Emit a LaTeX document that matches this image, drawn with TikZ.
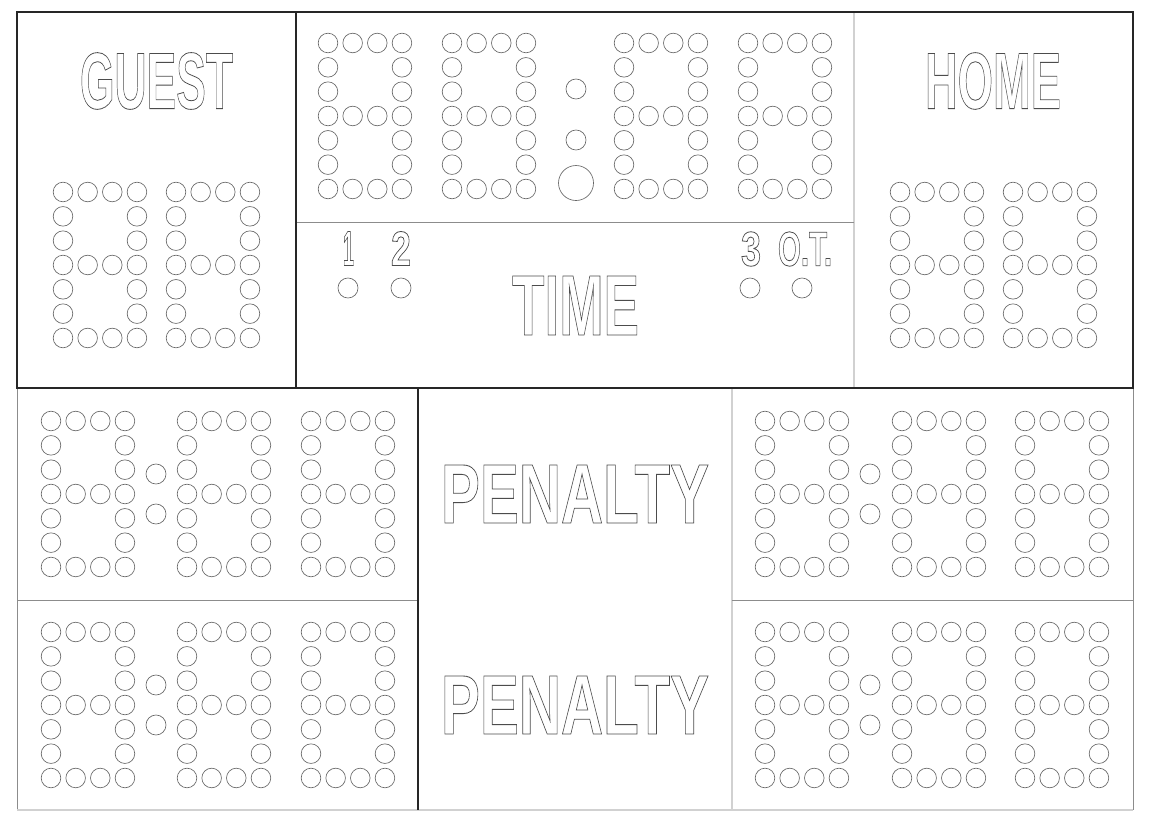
\documentclass[tikz,border=0pt]{standalone}
\usepackage{fontspec}
\setmainfont{Liberation Sans}
\usepackage{graphicx}
\usepackage{tikz}

\newcommand{\boardlabel}[3]{\resizebox{#1pt}{#2pt}{\special{pdf:code 1 Tr 0.8 w}#3\special{pdf:code 0 Tr}}}
\newcommand{\dotdigit}[2]{%
    \foreach \c in {0,...,3} {
        \foreach \r in {0,3,6}
            \draw[dot] (#1+\c*24.65,#2+\r*24.33) circle (9.8);
    }
    \foreach \c in {0,3} {
        \foreach \r in {1,2,4,5}
            \draw[dot] (#1+\c*24.65,#2+\r*24.33) circle (9.8);
    }
}

\tikzset{
    dot/.style={draw=black!60,line width=0.65pt},
    frame/.style={draw=black!85,line width=1.2pt},
    midline/.style={draw=black!45,line width=1pt},
    lightline/.style={draw=black!18,line width=1.2pt},
    boardtext/.style={inner sep=0pt,font=\bfseries\fontsize{78}{78}\selectfont,text=black!70}
}

\begin{document}
\begin{tikzpicture}[x=1pt,y=-1pt]
    \useasboundingbox (0,0) rectangle (1150,830);
    \fill[white] (0,0) rectangle (1150,830);
    \draw[midline] (17,388) -- (17,810);
    \draw[midline] (1133,388) -- (1133,810);
    \draw[lightline] (17,810) -- (1133,810);
    \draw[lightline] (732,388) -- (732,810);
    \draw[midline] (17,600) -- (418,600);
    \draw[midline] (732,600) -- (1133,600);
    \draw[frame] (418,388) -- (418,810);
    \draw[lightline] (854,12) -- (854,388);
    \draw[midline] (296,222) -- (854,222);
    \draw[frame] (296,12) -- (296,388);
    \draw[frame] (17,12) rectangle (1133,388);
    \node[boardtext] (guest) at (156.5,81) {\boardlabel{153}{56}{GUEST}};
    \node[boardtext] (home) at (993,81) {\boardlabel{136}{56}{HOME}};
    \node[boardtext] (time) at (575.5,305.5) {\boardlabel{127}{59}{TIME}};
    \node[boardtext] (penalty1) at (575,494) {\boardlabel{268}{58}{PENALTY}};
    \node[boardtext] (penalty2) at (575,705) {\boardlabel{268}{58}{PENALTY}};
    \node[boardtext,font=\bfseries\fontsize{47}{47}\selectfont] (per1) at (348.5,248.5) {\boardlabel{11}{34}{1}};
    \node[boardtext,font=\bfseries\fontsize{47}{47}\selectfont] (per2) at (401,248.5) {\boardlabel{20}{34}{2}};
    \node[boardtext,font=\bfseries\fontsize{47}{47}\selectfont] (per3) at (751,249) {\boardlabel{20}{34}{3}};
    \node[boardtext,font=\bfseries\fontsize{47}{47}\selectfont] (perot) at (805,249) {\boardlabel{54}{34}{O.T.}};
    \foreach \x in {348,401,750,802}
        \draw[dot] (\x,288) circle (10);
    \foreach \x in {328,452,624,748} {
        \dotdigit{\x}{43}
    }
    \draw[dot] (576,89) circle (10);
    \draw[dot] (576,140) circle (10);
    \draw[dot] (576,183) circle (17.5);
    \foreach \x in {63,176,900,1013} {
        \dotdigit{\x}{192}
    }
    \foreach \y in {421,632} {
        \foreach \x in {51,187,311,765,902,1025} {
            \dotdigit{\x}{\y}
        }
        \foreach \x in {156,870} {
            \draw[dot] (\x,\y+53) circle (10);
            \draw[dot] (\x,\y+93) circle (10);
        }
    }
\end{tikzpicture}
\end{document}
